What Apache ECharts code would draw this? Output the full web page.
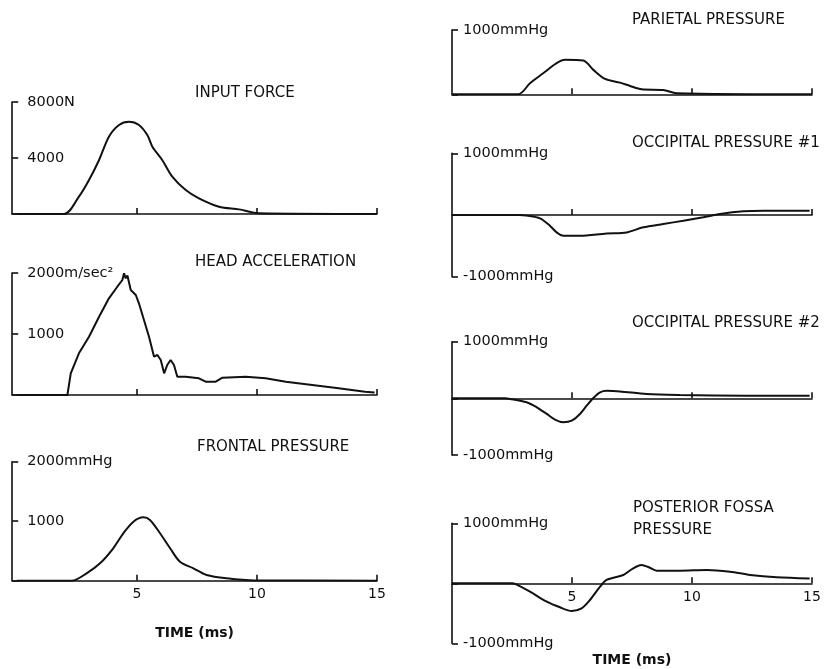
<!DOCTYPE html>
<html>
<head>
<meta charset="utf-8">
<script src="https://cdn.jsdelivr.net/npm/echarts@6/dist/echarts.min.js"></script>
<style>
html,body{margin:0;padding:0;background:#fff;}
#chart{width:835px;height:669px;}
</style>
</head>
<body>
<div id="chart"></div>
<script>
// ---- data (time in ms, values in axis units) ----
const timeTicks = [5, 10, 15];
const timeTickLabels = ['5', '10', '15'];

const forceT = [0, 1.96, 2.58, 3.0, 3.42, 3.83, 4.25, 4.67, 5.08, 5.43, 5.64, 6.05, 6.47, 7.03, 7.58, 8.42, 9.25, 10.08, 15];
const forceV = [0, 0, 1240, 2430, 3860, 5520, 6360, 6590, 6360, 5640, 4810, 3860, 2670, 1710, 1120, 520, 330, 50, 0];

const accT = [0, 2.1, 2.24, 2.58, 3.0, 3.42, 3.83, 4.18, 4.39, 4.46, 4.53, 4.6, 4.74, 4.95, 5.08, 5.29, 5.5, 5.71, 5.85, 5.99, 6.13, 6.26, 6.4, 6.54, 6.68, 7.03, 7.58, 7.86, 8.28, 8.56, 9.53, 10.36, 11.2, 12.3, 13.4, 14.5, 14.9];
const accV = [0, 0, 356, 683, 956, 1284, 1585, 1775, 1885, 1995, 1913, 1960, 1721, 1639, 1503, 1230, 956, 628, 656, 574, 356, 492, 574, 492, 300, 300, 274, 218, 218, 284, 300, 274, 218, 164, 110, 55, 40];

const frontT = [0, 2.28, 2.9, 3.46, 4.01, 4.43, 4.85, 5.26, 5.54, 5.96, 6.38, 6.79, 7.35, 7.9, 8.74, 9.9, 15];
const frontV = [0, 0, 124, 292, 545, 797, 992, 1066, 1020, 797, 545, 319, 208, 96, 40, 5, 0];

const parT = [0, 2.76, 3.25, 3.8, 4.36, 4.71, 5.47, 5.89, 6.38, 7.0, 7.42, 7.9, 8.8, 9.36, 15];
const parV = [0, 0, 172, 328, 484, 536, 525, 380, 239, 181, 130, 78, 67, 16, 0];

const occ1T = [0, 2.8, 3.11, 3.67, 4.08, 4.36, 4.64, 5.33, 6.44, 7.28, 7.97, 8.8, 9.64, 10.47, 11.17, 12.14, 12.97, 14.9];
const occ1V = [0, 0, -10, -54, -174, -282, -337, -337, -298, -282, -200, -146, -93, -37, 16, 60, 70, 70];

const occ2T = [0, 2.2, 2.42, 3.11, 3.53, 3.95, 4.29, 4.64, 4.99, 5.33, 5.61, 5.89, 6.17, 6.44, 7.0, 8.11, 9.5, 12.28, 14.9];
const occ2V = [0, 0, -10, -70, -158, -275, -375, -421, -393, -275, -130, 5, 105, 133, 123, 75, 58, 46, 46];

const pfT = [0, 2.5, 2.63, 3.25, 3.95, 4.5, 4.99, 5.4, 5.75, 6.17, 6.44, 7.14, 7.55, 7.9, 8.2, 8.53, 9.5, 10.61, 11.58, 12.42, 13.53, 14.9];
const pfV = [0, 0, -10, -139, -306, -400, -461, -417, -278, -56, 56, 139, 250, 305, 267, 210, 210, 222, 194, 139, 100, 80];

// y tick labels per panel
const forceYTicks = [4000, 8000];           const forceYLabels = ['4000', '8000N'];
const accYTicks = [1000, 2000];             const accYLabels = ['1000', '2000m/sec\u00B2'];
const frontYTicks = [1000, 2000];           const frontYLabels = ['1000', '2000mmHg'];
const parYTicks = [1000];                   const parYLabels = ['1000mmHg'];
const occYTicks = [-1000, 1000];            const occYLabels = ['-1000mmHg', '1000mmHg'];

const titles = ['INPUT FORCE', 'HEAD ACCELERATION', 'FRONTAL PRESSURE', 'PARIETAL PRESSURE',
  'OCCIPITAL PRESSURE #1', 'OCCIPITAL PRESSURE #2', 'POSTERIOR FOSSA\nPRESSURE'];
const xAxisName = 'TIME (ms)';

// ---- build ----
const zip = (t, v) => t.map((x, i) => [x, v[i]]);
const FONT = 'DejaVu Sans';
const INK = '#111';

const panels = [
  {t: forceT, v: forceV, left: 12.2, width: 364.8, xmin: -0.2, top: 102, height: 112, ymin: 0, ymax: 8000, yi: 4000, yt: forceYTicks, yl: forceYLabels, smooth: 0.3, bottom: false, title: [195, 82]},
  {t: accT, v: accV, left: 12.2, width: 364.8, xmin: -0.2, top: 273, height: 122, ymin: 0, ymax: 2000, yi: 1000, yt: accYTicks, yl: accYLabels, smooth: false, bottom: false, title: [195, 251]},
  {t: frontT, v: frontV, left: 12.2, width: 364.8, xmin: -0.2, top: 461.7, height: 119, ymin: 0, ymax: 2000, yi: 1000, yt: frontYTicks, yl: frontYLabels, smooth: 0.3, bottom: true, gap: 46, title: [197, 436]},
  {t: parT, v: parV, left: 452, width: 360, xmin: 0, top: 30, height: 64.3, ymin: 0, ymax: 1000, yi: 1000, yt: parYTicks, yl: parYLabels, smooth: 0.3, bottom: false, title: [632, 9]},
  {t: occ1T, v: occ1V, left: 452, width: 360, xmin: 0, top: 153.3, height: 123.4, ymin: -1000, ymax: 1000, yi: 1000, yt: occYTicks, yl: occYLabels, smooth: 0.3, bottom: false, title: [632, 132], mid: true},
  {t: occ2T, v: occ2V, left: 452, width: 360, xmin: 0, top: 341.7, height: 113.3, ymin: -1000, ymax: 1000, yi: 1000, yt: occYTicks, yl: occYLabels, smooth: 0.3, bottom: false, title: [632, 312], mid: true},
  {t: pfT, v: pfV, left: 452, width: 360, xmin: 0, top: 523.3, height: 120, ymin: -1000, ymax: 1000, yi: 1000, yt: occYTicks, yl: occYLabels, smooth: 0.3, bottom: true, gap: 70, title: [633, 497], mid: true}
];

const grid = [], xAxis = [], yAxis = [], series = [], title = [];
panels.forEach((p, i) => {
  grid.push({left: p.left, top: p.top, width: p.width, height: p.height, containLabel: false, outerBoundsMode: 'none'});
  xAxis.push({
    type: 'value', gridIndex: i, min: p.xmin, max: 15, position: 'bottom',
    offset: p.mid ? -p.height / 2 : 0,
    axisLine: {show: true, onZero: false, lineStyle: {color: INK, width: 1.6}},
    axisTick: {show: true, inside: true, length: 6, customValues: timeTicks, lineStyle: {color: INK, width: 1.6}},
    axisLabel: {show: p.bottom, customValues: timeTicks, margin: 7, color: INK, fontFamily: FONT, fontSize: 14,
      formatter: v => { const k = timeTicks.indexOf(v); return k >= 0 ? timeTickLabels[k] : ''; }},
    splitLine: {show: false},
    name: p.bottom ? xAxisName : '', nameLocation: 'middle', nameGap: p.gap || 0,
    nameTextStyle: {color: INK, fontFamily: FONT, fontSize: 14, fontWeight: 'bold'}
  });
  yAxis.push({
    type: 'value', gridIndex: i, min: p.ymin, max: p.ymax, interval: p.yi,
    axisLine: {show: true, onZero: false, lineStyle: {color: INK, width: 1.6}},
    axisTick: {show: true, inside: true, length: 6, lineStyle: {color: INK, width: 1.6}},
    axisLabel: {show: true, inside: true, margin: p.left < 100 ? 15 : 11, color: INK, fontFamily: FONT, fontSize: 14.5,
      formatter: v => { const k = p.yt.indexOf(v); return k >= 0 ? p.yl[k] : ''; }},
    splitLine: {show: false}
  });
  series.push({
    type: 'line', xAxisIndex: i, yAxisIndex: i, data: zip(p.t, p.v), smooth: p.smooth,
    showSymbol: false, symbol: 'none', lineStyle: {color: INK, width: 2}, animation: false, silent: true
  });
  title.push({text: titles[i], left: p.title[0], top: p.title[1],
    textStyle: {color: INK, fontFamily: FONT, fontSize: 15, fontWeight: 'normal', lineHeight: 22}, padding: 0});
});

const chart = echarts.init(document.getElementById('chart'), null, {renderer: 'canvas'});
chart.setOption({backgroundColor: '#fff', animation: false, title, grid, xAxis, yAxis, series});
</script>
</body>
</html>
